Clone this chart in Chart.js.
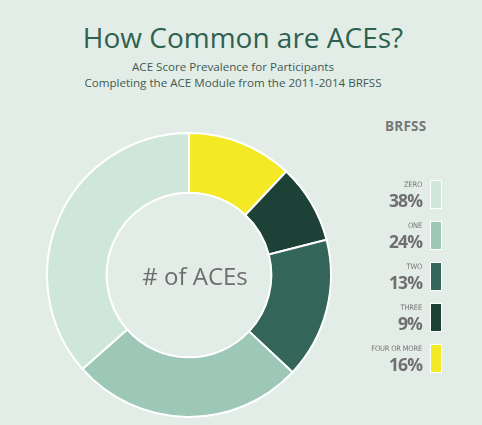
<!DOCTYPE html>
<html>
<head>
<meta charset="utf-8">
<script src="https://cdn.jsdelivr.net/npm/chart.js@4"></script>
<style>
  html, body { margin: 0; padding: 0; }
  body {
    width: 482px; height: 425px; background: #e3ede7; position: relative;
    overflow: hidden; font-family: "Open Sans", sans-serif;
  }
  #title {
    position: absolute; left: 0; width: 486px; top: 18px; text-align: center;
    font-size: 28px; color: #2f6151;
  }
  #sub {
    position: absolute; left: 0; width: 466px; top: 59px; text-align: center;
    font-size: 11.6px; line-height: 16px; color: #3e5a50;
  }
  #brfss {
    position: absolute; left: 385px; top: 117px; font-size: 13.5px; font-weight: 700;
    color: #777; letter-spacing: 0.2px;
  }
  #chartBox { position: absolute; left: 46px; top: 132px; width: 286px; height: 286px; }
  .item { position: absolute; left: 330px; width: 112px; height: 30px; }
  .item .cat {
    position: absolute; right: 20px; top: 0; font-family: "DejaVu Sans Condensed", "Open Sans", sans-serif;
    font-size: 7.5px; color: #777; letter-spacing: -0.2px;
  }
  .item .pct {
    position: absolute; right: 20px; top: 8px; font-family: "Open Sans", sans-serif;
    font-size: 17.5px; font-weight: 700; color: #6f6f6f; letter-spacing: -0.9px;
  }
  .item .sw { position: absolute; right: 0; top: 0; width: 10px; height: 27px; border: 1px solid #fff; }
</style>
</head>
<body>
<div id="title">How Common are ACEs?</div>
<div id="sub">ACE Score Prevalence for Participants<br>Completing the ACE Module from the 2011-2014 BRFSS</div>
<div id="brfss">BRFSS</div>
<div id="chartBox"><canvas id="myChart"></canvas></div>
<div id="legend"></div>
<script>
  const categories = ['ZERO', 'ONE', 'TWO', 'THREE', 'FOUR OR MORE'];
  const percentLabels = ['38%', '24%', '13%', '9%', '16%'];
  // arc sizes as drawn in the picture (share of the ring)
  const arcShares = [36.5, 26.5, 16, 9, 12];
  const colors = ['#cfe6db', '#9dc7b6', '#336659', '#1d4037', '#f3e925'];

  (() => {
    'use strict'

    // legend on the right
    const legend = document.getElementById('legend');
    categories.forEach((c, i) => {
      const d = document.createElement('div');
      d.className = 'item';
      d.style.top = (180 + i * 41) + 'px';
      d.innerHTML = `<div class="cat">${c}</div><div class="pct">${percentLabels[i]}</div><div class="sw" style="background:${colors[i]}"></div>`;
      legend.appendChild(d);
    });

    // ring goes clockwise from the top: four or more first, zero last
    const order = [4, 3, 2, 1, 0];

    const centerText = {
      id: 'centerText',
      afterDraw(chart) {
        const { ctx } = chart;
        const meta = chart.getDatasetMeta(0).data[0];
        ctx.save();
        ctx.font = '24px "Open Sans", sans-serif';
        ctx.fillStyle = '#6e6e6e';
        ctx.textAlign = 'center';
        ctx.textBaseline = 'middle';
        ctx.fillText('# of ACEs', meta.x + 6, meta.y + 3);
        ctx.restore();
      }
    };

    const ctx = document.getElementById('myChart');
    new Chart(ctx, {
      type: 'doughnut',
      plugins: [centerText],
      data: {
        labels: order.map(i => categories[i]),
        datasets: [{
          data: order.map(i => arcShares[i]),
          backgroundColor: order.map(i => colors[i]),
          borderColor: '#ffffff',
          borderWidth: 2
        }]
      },
      options: {
        responsive: true,
        maintainAspectRatio: false,
        animation: false,
        cutout: '58%',
        layout: { padding: 0 },
        plugins: {
          legend: { display: false },
          tooltip: { enabled: false }
        }
      }
    });
  })()
</script>
</body>
</html>
